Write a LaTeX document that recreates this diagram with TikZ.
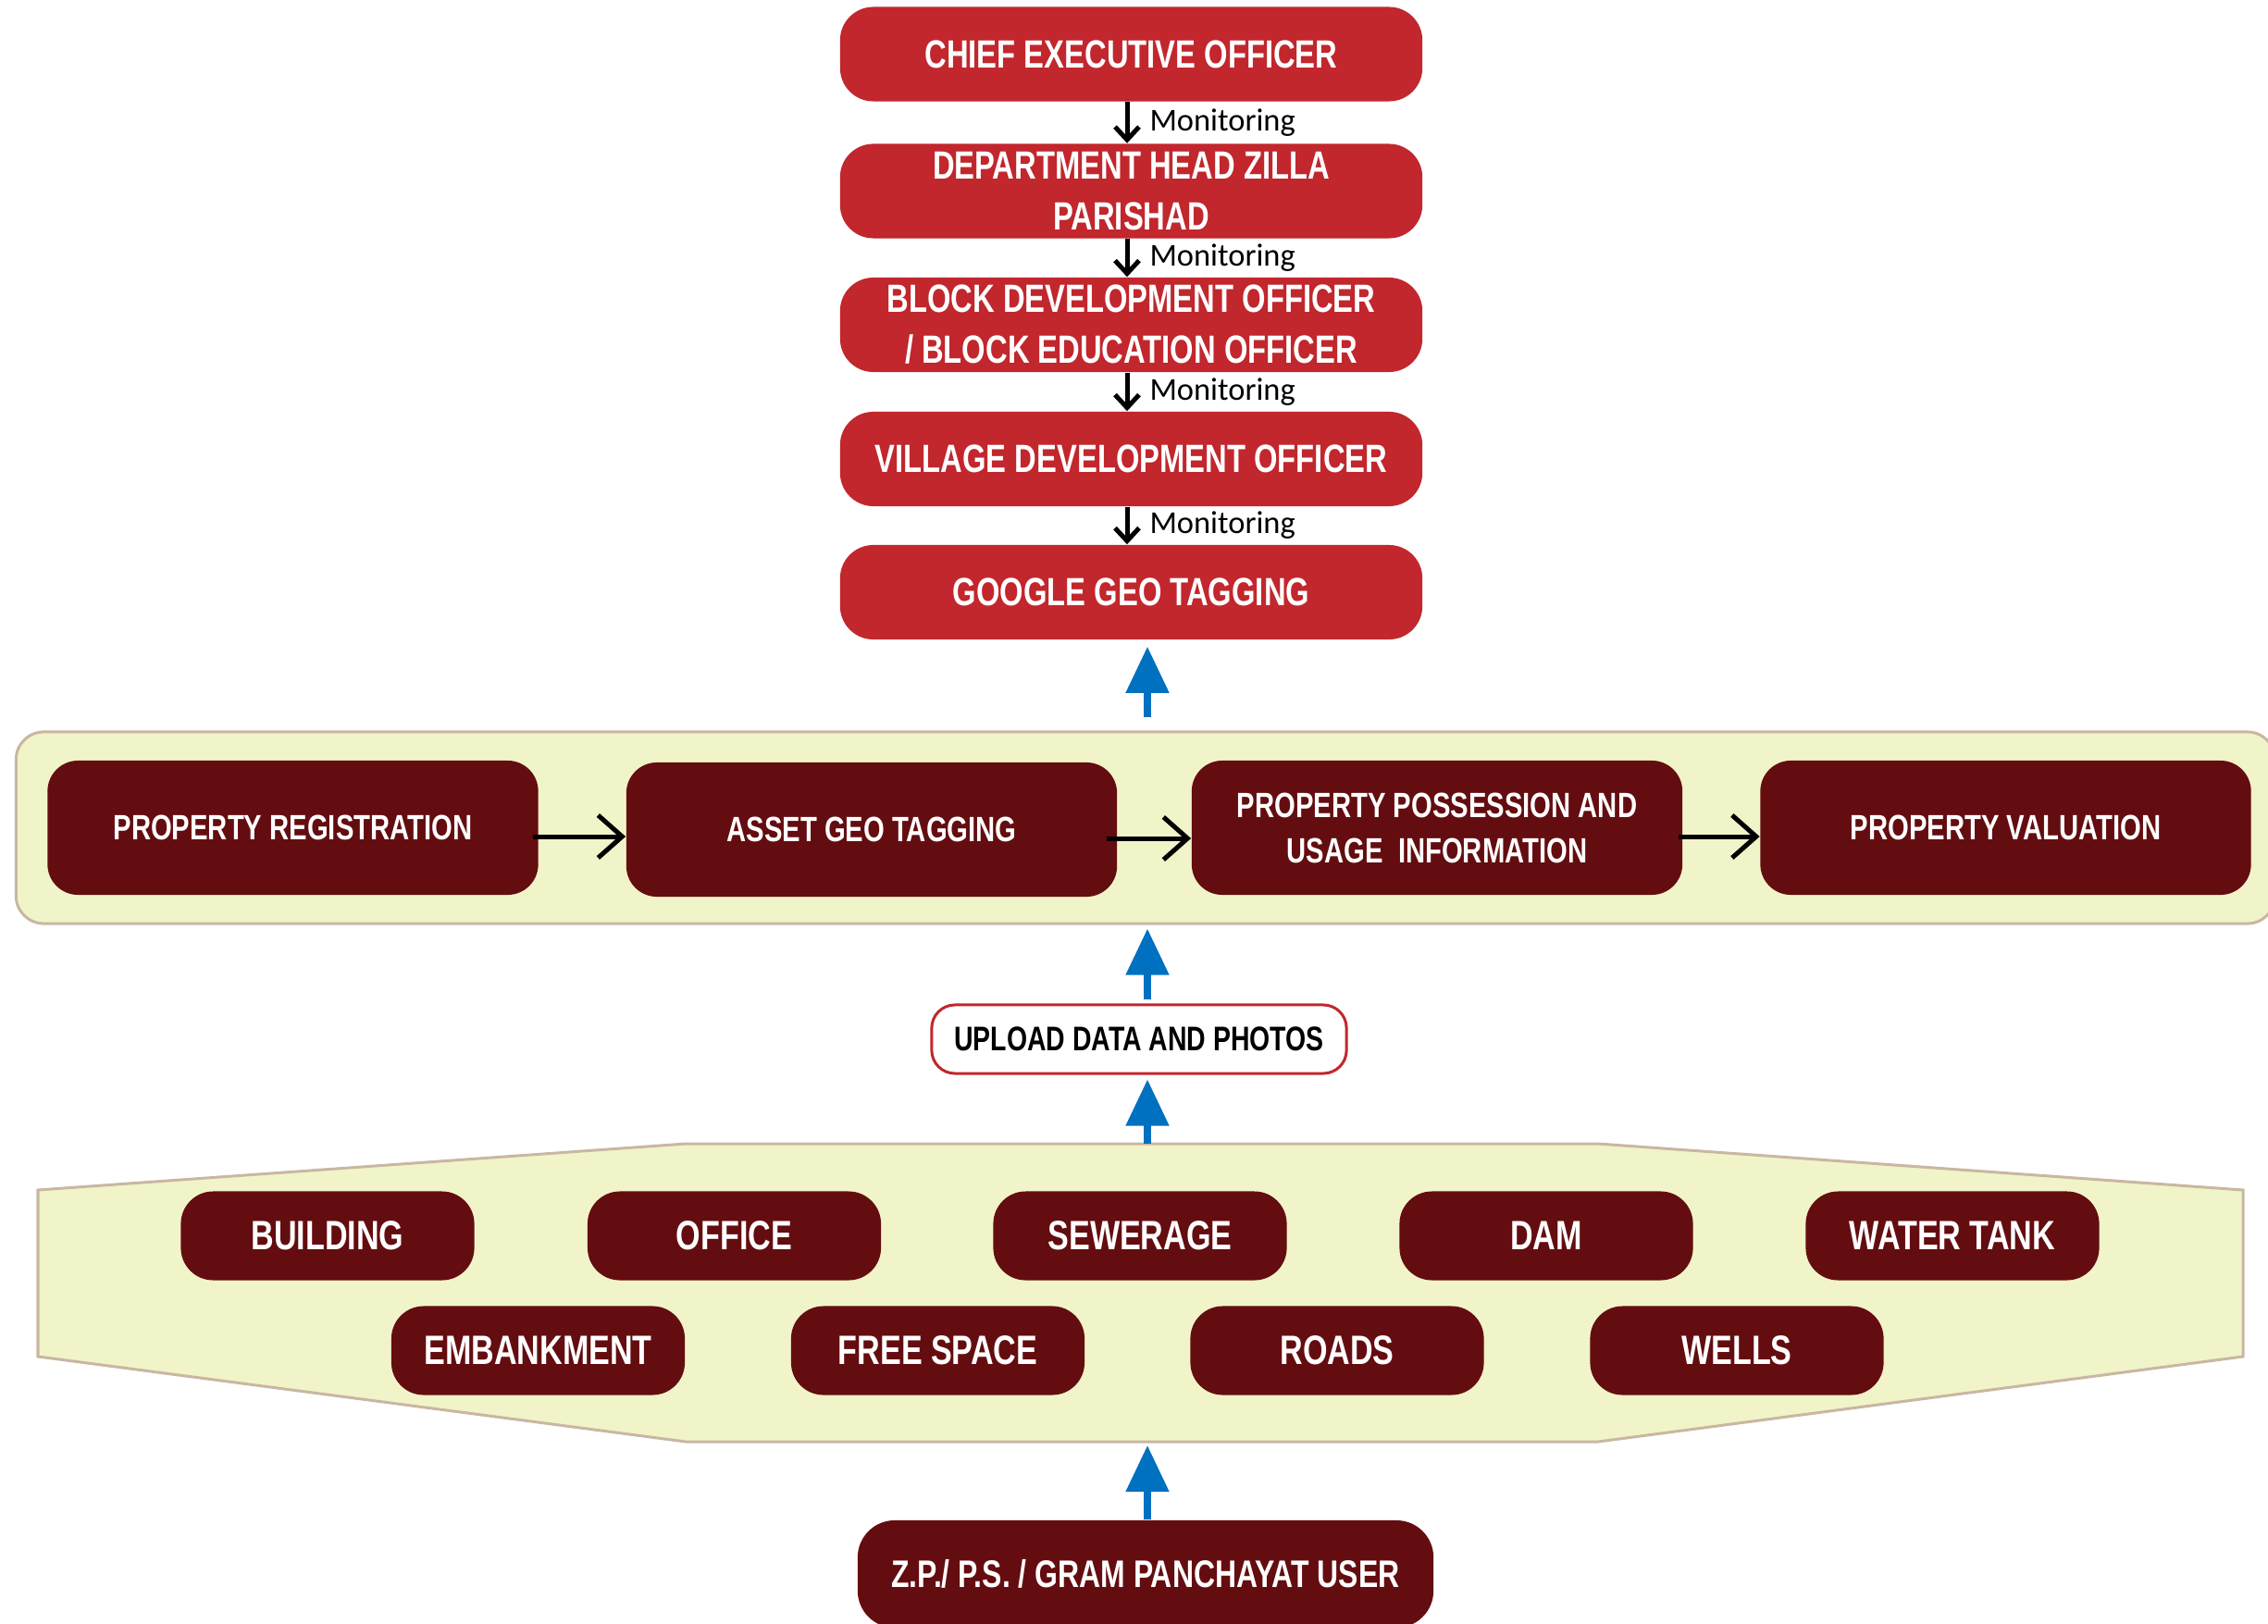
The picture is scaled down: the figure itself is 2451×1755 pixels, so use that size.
\documentclass[tikz,border=0pt]{standalone}
\usepackage{fontspec}
\setmainfont{Liberation Sans}
\newfontfamily\boxfont{Liberation Sans}[FakeStretch=0.77]
\newfontfamily\monfont{Carlito}
\usetikzlibrary{arrows.meta}
\definecolor{topred}{HTML}{C1272D}
\definecolor{darkbox}{HTML}{640D10}
\definecolor{bandfill}{HTML}{F1F4C8}
\definecolor{bandline}{HTML}{C9B7A2}
\definecolor{arrowblue}{HTML}{0070C0}
\begin{document}
\begin{tikzpicture}[x=0.01cm,y=-0.01cm,
  topbox/.style={fill=topred, text=white, rounded corners=3.6mm, minimum width=6.29cm, minimum height=1.02cm, inner sep=0pt, align=center, font=\boxfont\bfseries\fontsize{12.1}{15.6}\selectfont},
  bandbox/.style={fill=darkbox, text=white, rounded corners=3.3mm, minimum width=5.3cm, minimum height=1.45cm, inner sep=0pt, align=center, font=\boxfont\bfseries\fontsize{10.8}{13.9}\selectfont},
  itembox/.style={fill=darkbox, text=white, rounded corners=3.5mm, minimum width=3.17cm, minimum height=0.96cm, inner sep=0pt, font=\boxfont\bfseries\fontsize{12.6}{15}\selectfont},
  uploadbox/.style={draw=topred, line width=0.3mm, fill=white, rounded corners=2.5mm, minimum width=4.48cm, minimum height=0.74cm, inner sep=0pt, font=\boxfont\bfseries\fontsize{10.5}{12}\selectfont},
  userbox/.style={fill=darkbox, text=white, rounded corners=4mm, minimum width=6.22cm, minimum height=1.16cm, inner sep=0pt, font=\boxfont\bfseries\fontsize{11.8}{13}\selectfont},
  bandshape/.style={fill=bandfill, draw=bandline, line width=0.3mm},
  monarrow/.style={draw=black, line width=0.5mm, -{Straight Barb[length=1.4mm,width=2.6mm]}},
  flowarrow/.style={draw=black, line width=0.5mm, -{Straight Barb[length=2.6mm,width=4.6mm]}},
  uparrow/.style={draw=arrowblue, line width=0.8mm, -{Triangle[length=5mm,width=4.5mm]}},
  monlabel/.style={font=\monfont\fontsize{9.8}{11}\selectfont, anchor=west, inner sep=0pt, xshift=0.22cm}
]
\useasboundingbox (0,0) rectangle (2451,1755);
\coordinate (mcol) at (1218,0);
\coordinate (bcol) at (1240,0);

% top hierarchy
\node[topbox] (ceo) at (1222.5,58.5) {CHIEF EXECUTIVE OFFICER};
\node[topbox] (dept) at (1222.5,206.5) {DEPARTMENT HEAD ZILLA\\PARISHAD};
\node[topbox] (bdo) at (1222.5,351) {BLOCK DEVELOPMENT OFFICER\\/ BLOCK EDUCATION OFFICER};
\node[topbox] (vdo) at (1222.5,496) {VILLAGE DEVELOPMENT OFFICER};
\node[topbox] (geo) at (1222.5,640) {GOOGLE GEO TAGGING};

\draw[monarrow] (ceo.south -| mcol) -- node[monlabel] (m1) {Monitoring} (dept.north -| mcol);
\draw[monarrow] (dept.south -| mcol) -- node[monlabel] (m2) {Monitoring} (bdo.north -| mcol);
\draw[monarrow] (bdo.south -| mcol) -- node[monlabel] (m3) {Monitoring} (vdo.north -| mcol);
\draw[monarrow] (vdo.south -| mcol) -- node[monlabel] (m4) {Monitoring} (geo.north -| mcol);

% process band
\node[bandshape, rounded corners=3mm, minimum width=24.4cm, minimum height=2.07cm, inner sep=0pt] (band) at (1238,894.5) {};
\node[bandbox] (pr) at (316.5,894.5) {PROPERTY REGISTRATION};
\node[bandbox] (agt) at (942,896.5) {ASSET GEO TAGGING};
\node[bandbox] (ppu) at (1553,894.5) {PROPERTY POSSESSION AND\\USAGE\ \ INFORMATION};
\node[bandbox] (pv) at (2167.5,894.5) {PROPERTY VALUATION};

\draw[flowarrow] ([xshift=-0.06cm,yshift=-0.095cm]pr.east) -- ([yshift=-0.095cm]pr.east -| agt.west);
\draw[flowarrow] ([xshift=-0.12cm,yshift=-0.095cm]agt.east) -- ([yshift=-0.095cm]agt.east -| ppu.west);
\draw[flowarrow] ([xshift=-0.05cm,yshift=-0.095cm]ppu.east) -- ([yshift=-0.095cm]ppu.east -| pv.west);

\draw[uparrow, shorten <=0.14cm, shorten >=0.07cm] (band.north -| bcol) -- (geo.south -| bcol);

% upload
\node[uploadbox] (up) at (1231,1123) {UPLOAD DATA AND PHOTOS};
\draw[uparrow, shorten <=0.04cm, shorten >=0.04cm] (up.north -| bcol) -- (band.south -| bcol);

% asset band
\draw[bandshape] (41,1286) -- (741,1236) -- (1727,1236) -- (2424,1286) -- (2424,1466) -- (1727,1558) -- (741,1558) -- (41,1466) -- cycle;
\coordinate (hextop) at (1240,1236);
\coordinate (hexbot) at (1240,1558);

\node[itembox] (building) at (354,1335.5) {BUILDING};
\node[itembox] (office) at (793.5,1335.5) {OFFICE};
\node[itembox] (sewerage) at (1232,1335.5) {SEWERAGE};
\node[itembox] (dam) at (1671,1335.5) {DAM};
\node[itembox] (tank) at (2110,1335.5) {WATER TANK};
\node[itembox] (embank) at (581.5,1459.5) {EMBANKMENT};
\node[itembox] (free) at (1013.5,1459.5) {FREE SPACE};
\node[itembox] (roads) at (1445,1459.5) {ROADS};
\node[itembox] (wells) at (1877,1459.5) {WELLS};

\draw[uparrow, shorten >=0.05cm] (hextop) -- (up.south -| bcol);

% user
\node[userbox] (user) at (1238,1701) {Z.P./ P.S. / GRAM PANCHAYAT USER};
\draw[uparrow, shorten >=0.04cm] (user.north -| bcol) -- (hexbot);
\end{tikzpicture}
\end{document}
